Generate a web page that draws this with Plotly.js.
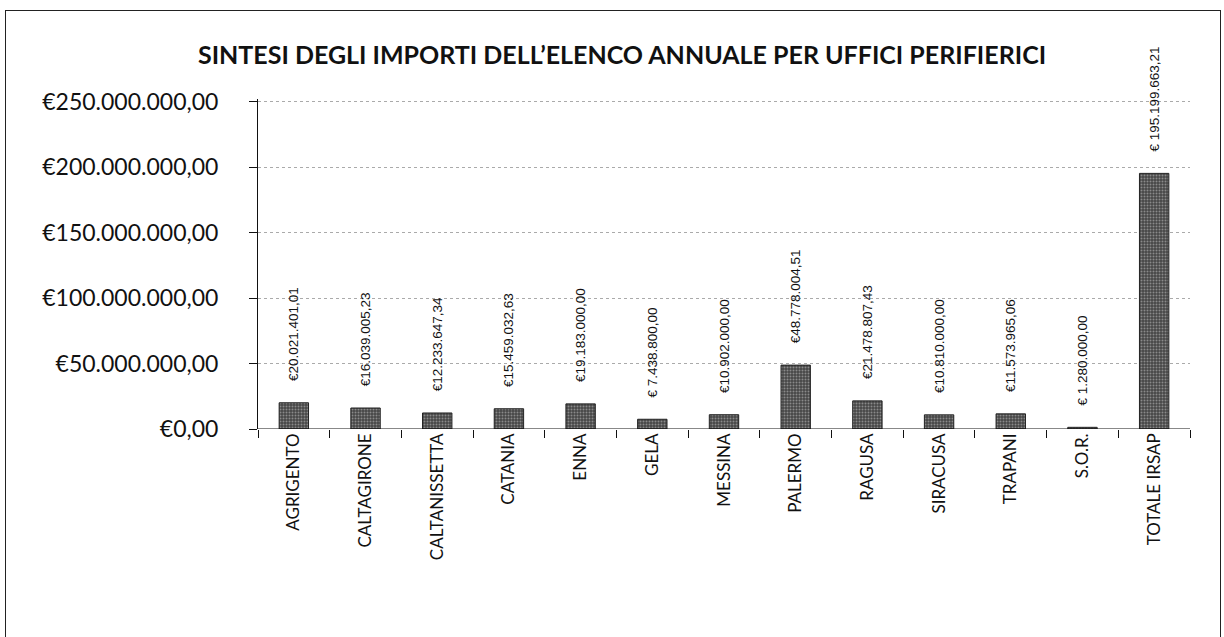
<!DOCTYPE html>
<html>
<head>
<meta charset="utf-8">
<script src="https://cdn.plot.ly/plotly-3.0.1.min.js"></script>
<style>
    body { margin: 0; background: #fff; overflow: hidden; }
    #grafico { position: absolute; left: 5px; top: 10px; width: 1214px; height: 630px; }
    #cornice {
        position: absolute; left: 5px; top: 10px; width: 1216px; height: 640px;
        border: 1.5px solid #222; box-sizing: border-box; pointer-events: none;
    }
</style>
</head>
<body>
<div id="grafico"></div>
<div id="cornice"></div>
<script>
const uffici = ["AGRIGENTO", "CALTAGIRONE", "CALTANISSETTA", "CATANIA", "ENNA", "GELA",
    "MESSINA", "PALERMO", "RAGUSA", "SIRACUSA", "TRAPANI", "S.O.R.", "TOTALE IRSAP"];
const importi = [20021401.01, 16039005.23, 12233647.34, 15459032.63, 19183000.00, 7438800.00,
    10902000.00, 48778004.51, 21478807.43, 10810000.00, 11573965.06, 1280000.00, 195199663.21];
const etichette = ["€20.021.401,01", "€16.039.005,23", "€12.233.647,34", "€15.459.032,63",
    "€19.183.000,00", "€ 7.438.800,00", "€10.902.000,00", "€48.778.004,51", "€21.478.807,43",
    "€10.810.000,00", "€11.573.965,06", "€ 1.280.000,00", "€ 195.199.663,21"];

const fontBase = "Lato, 'Open Sans', sans-serif";

const traccia = {
    type: "bar",
    x: uffici,
    y: importi,
    text: etichette,
    // spazi iniziali = distacco tra barra ed etichetta
    texttemplate: "\u00a0\u00a0\u00a0\u00a0\u00a0%{text}",
    textposition: "outside",
    textangle: -90,
    constraintext: "none",
    cliponaxis: false,
    textfont: { family: "'Liberation Sans', Arial, sans-serif", size: 13.5, color: "#111" },
    marker: {
        color: "#555",
        line: { color: "#222", width: 1 },
        pattern: { shape: ".", fgcolor: "#8a8a8a", bgcolor: "#474747", size: 3, solidity: 0.35 },
    },
    width: 0.41,
    hoverinfo: "x+y",
};

const layout = {
    paper_bgcolor: "rgba(0,0,0,0)",
    plot_bgcolor: "rgba(0,0,0,0)",
    separators: ",.",
    font: { family: fontBase, color: "#111" },
    margin: { t: 89, r: 29, b: 211, l: 253 },
    showlegend: false,
    title: {
        text: "<b>SINTESI DEGLI IMPORTI DELL’ELENCO ANNUALE PER UFFICI PERIFIERICI</b>",
        font: { size: 25, family: fontBase, color: "#111" },
        x: 617 / 1214, xref: "container", xanchor: "center",
        y: 1 - 45 / 630, yref: "container", yanchor: "middle",
    },
    xaxis: {
        type: "category",
        tickangle: -90,
        tickfont: { size: 17, family: fontBase },
        ticks: "outside",
        tickson: "boundaries",
        ticklen: 8,
        tickcolor: "#111",
        showline: false,
        showgrid: false,
    },
    yaxis: {
        range: [0, 252000000],
        dtick: 50000000,
        tickprefix: "€",
        tickformat: ",.2f",
        tickfont: { size: 23, family: fontBase },
        ticks: "outside",
        ticklen: 8,
        tickcolor: "#111",
        showline: true,
        linecolor: "#111",
        linewidth: 1,
        gridcolor: "#aaa",
        griddash: "dot",
        gridwidth: 1,
        zeroline: false,
        ticklabelstandoff: 26,
    },
    shapes: [{
        type: "line", xref: "paper", yref: "y",
        x0: 0, x1: 1, y0: 0, y1: 0,
        line: { color: "#111", width: 1 },
    }],
    bargap: 0.58,
};

Plotly.newPlot("grafico", [traccia], layout, { displayModeBar: false, staticPlot: true });
</script>
</body>
</html>
